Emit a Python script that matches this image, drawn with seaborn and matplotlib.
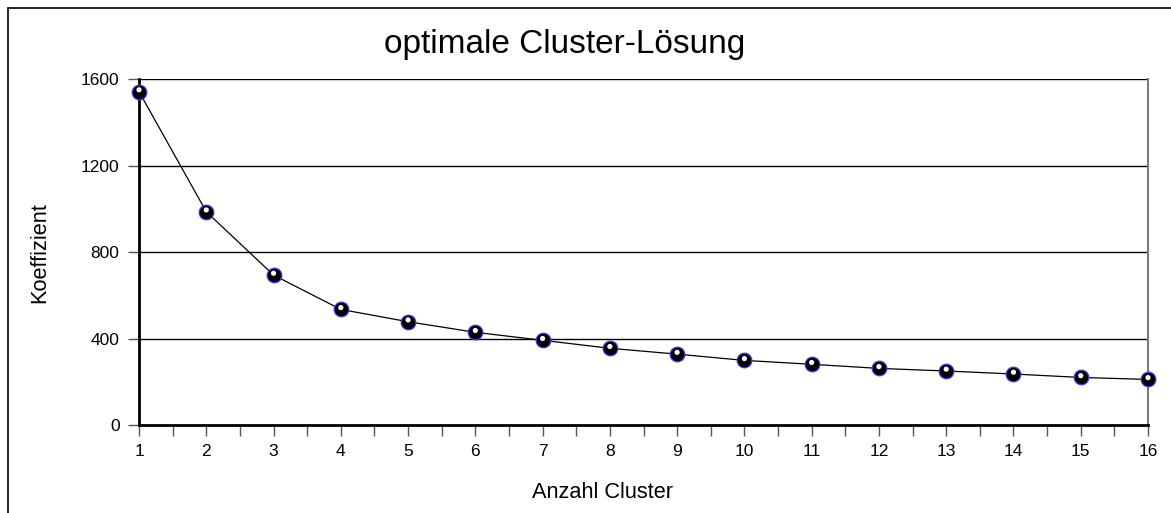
import numpy as np
import matplotlib
matplotlib.use("Agg")
import matplotlib.pyplot as plt
import matplotlib.transforms as mtransforms
from matplotlib.lines import Line2D
import seaborn as sns

# Elbow data: agglomeration coefficient per number of clusters
clusters = [1, 2, 3, 4, 5, 6, 7, 8, 9, 10, 11, 12, 13, 14, 15, 16]
coefficients = [1543, 987, 694, 535, 478, 429, 392, 355, 328, 299, 281, 262, 250, 236, 220, 211]
y_ticks = [0, 400, 800, 1200, 1600]

title = "optimale Cluster-Lösung"
x_label = "Anzahl Cluster"
y_label = "Koeffizient"

sns.set_theme(style="white")
plt.rcParams["font.family"] = ["Liberation Sans", "DejaVu Sans"]
plt.rcParams["text.color"] = "black"
plt.rcParams["xtick.labelcolor"] = "black"
plt.rcParams["ytick.labelcolor"] = "black"

W, H = 1171, 513
fig = plt.figure(figsize=(W / 100, H / 100), dpi=100)
fig.patch.set_facecolor("white")

left, right, bottom, top = 139, 1148, 425, 79.3
ax = fig.add_axes([left / W, 1 - bottom / H, (right - left) / W, (bottom - top) / H])
ax.set_facecolor("white")

# horizontal grid lines
for v in y_ticks[1:]:
    ax.axhline(v, color="black", lw=1.0, zorder=1)

sns.lineplot(x=clusters, y=coefficients, ax=ax, color="black", lw=0.9,
             estimator=None, zorder=3)

sns.scatterplot(x=clusters, y=coefficients, ax=ax, s=110, color="black",
                edgecolor="#3a3ad8", linewidth=0.9, zorder=5, clip_on=False)
hl = mtransforms.offset_copy(ax.transData, fig=fig, x=0, y=1.3, units="points")
ax.scatter(clusters, coefficients, s=14, color="white", edgecolor="none",
           zorder=6, clip_on=False, transform=hl)

ax.set_xlim(1, 16)
ax.set_ylim(0, 1600)
ax.set_xticks(clusters)
ax.set_xticklabels([str(c) for c in clusters])
ax.set_xticks(np.arange(1.5, 16, 1.0), minor=True)
ax.set_yticks(y_ticks)
ax.set_yticklabels([str(v) for v in y_ticks])

ax.tick_params(axis="x", which="both", direction="out", length=8, width=1,
               color="#555555", labelsize=12.5, pad=6, bottom=True,
               labelcolor="black")
ax.tick_params(axis="y", direction="out", length=8, width=1,
               color="#555555", labelsize=12.5, pad=6, left=True,
               labelcolor="black")

for side in ("left", "bottom"):
    ax.spines[side].set_color("black")
    ax.spines[side].set_linewidth(2.0)
ax.spines["right"].set_color("#7a7a7a")
ax.spines["right"].set_linewidth(1.5)
ax.spines["top"].set_visible(False)

ax.set_xlabel("")
ax.set_ylabel("")

fig.text(565 / W, 1 - 45 / H, title, ha="center", va="center", fontsize=24,
         color="black")
fig.text(603 / W, 1 - 492 / H, x_label, ha="center", va="center",
         fontsize=15.7, color="black")
fig.text(40 / W, 1 - 253 / H, y_label, ha="center", va="center",
         rotation=90, fontsize=15.7, color="black")

# outer frame (left and top edges)
fig.add_artist(Line2D([8 / W, 8 / W], [0, 1 - 8 / H], color="black", lw=1.2,
                      transform=fig.transFigure))
fig.add_artist(Line2D([8 / W, 1], [1 - 8 / H, 1 - 8 / H], color="black", lw=1.2,
                      transform=fig.transFigure))

fig.savefig("out.png", dpi=100, facecolor="white")
